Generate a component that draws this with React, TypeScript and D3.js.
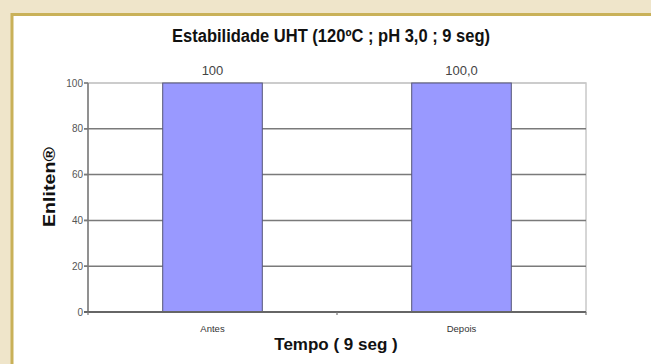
import React from "react";
import * as d3 from "d3";

const categories = ["Antes", "Depois"];
const values = [100, 100];
const valueLabels = ["100", "100,0"];
const yTicks = [0, 20, 40, 60, 80, 100];
const title = "Estabilidade UHT (120ºC ; pH 3,0 ; 9 seg)";
const xTitle = "Tempo ( 9 seg )";
const yTitle = "Enliten®";

export default function App() {
  const W = 651, H = 364;
  const left = 88, right = 586, top = 83, bottom = 312;
  const x = d3.scaleBand<string>().domain(categories).range([left, right]).padding(0);
  const y = d3.scaleLinear().domain([0, 100]).range([bottom, top]);
  const barW = x.bandwidth() * 0.4;
  const font = "'Liberation Sans', Arial, sans-serif";
  return (
    <svg width={W} height={H} style={{ position: "absolute", left: 0, top: 0, display: "block" }}>
      <rect x={0} y={0} width={W} height={H} fill="#EFE5CA" />
      <rect x={12} y={14.5} width={W} height={H} fill="#ffffff" stroke="#C9B159" strokeWidth={3} />
      <text x={331} y={42} textAnchor="middle" fontFamily={font} fontWeight="bold" fontSize={18} fill="#111" textLength={318} lengthAdjust="spacingAndGlyphs">{title}</text>
      {/* plot border */}
      <rect x={left} y={top} width={right - left} height={bottom - top} fill="#fff" stroke="#c8c8c8" strokeWidth={1.5} />
      {yTicks.map((t) => (
        <g key={t}>
          <line x1={left - 4} x2={right} y1={y(t)} y2={y(t)} stroke={t === 100 ? "#c8c8c8" : "#7a7a7a"} strokeWidth={1.5} />
          <line x1={left - 4} x2={left} y1={y(t)} y2={y(t)} stroke="#7a7a7a" strokeWidth={1.5} />
          <text x={83} y={y(t) + 3.5} textAnchor="end" fontFamily={font} fontSize={10} fill="#555">{t}</text>
        </g>
      ))}
      {categories.map((c, i) => {
        const cx = (x(c) as number) + x.bandwidth() / 2;
        return (
          <g key={c}>
            <rect x={cx - barW / 2} y={y(values[i])} width={barW} height={bottom - y(values[i])} fill="#9999FF" stroke="#555577" strokeWidth={1} />
            <text x={cx} y={y(values[i]) - 8} textAnchor="middle" fontFamily={font} fontSize={13} fill="#444">{valueLabels[i]}</text>
            <text x={cx} y={332} textAnchor="middle" fontFamily={font} fontSize={9.5} fill="#333">{c}</text>
          </g>
        );
      })}
      <line x1={left} x2={left} y1={top} y2={bottom + 1} stroke="#7a7a7a" strokeWidth={1.5} />
      <line x1={left - 4} x2={right} y1={bottom} y2={bottom} stroke="#666" strokeWidth={1.8} />
      {[left, (left + right) / 2, right].map((v) => (
        <line key={v} x1={v} x2={v} y1={bottom} y2={bottom + 3} stroke="#777" strokeWidth={1.2} />
      ))}
      <text x={336} y={350} textAnchor="middle" fontFamily={font} fontWeight="bold" fontSize={17} fill="#111">{xTitle}</text>
      <text transform={`translate(55,187) rotate(-90)`} textAnchor="middle" fontFamily={font} fontWeight="bold" fontSize={17} fill="#111" textLength={80} lengthAdjust="spacingAndGlyphs">{yTitle}</text>
    </svg>
  );
}
